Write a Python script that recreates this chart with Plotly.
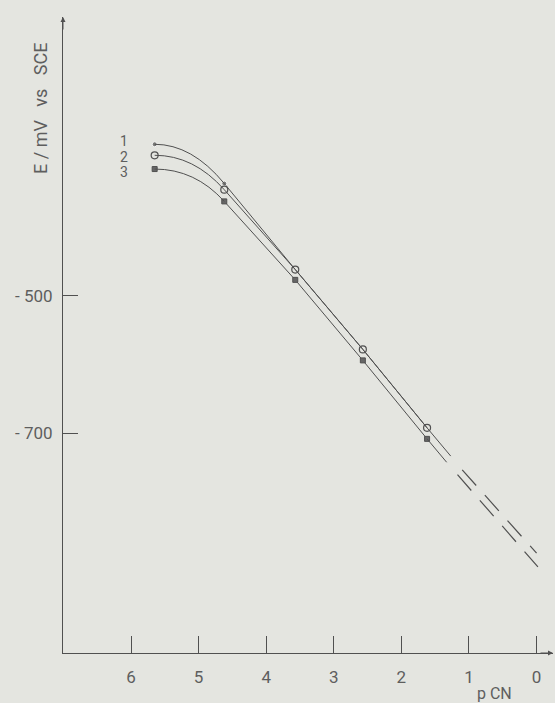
import plotly.graph_objects as go

# Electrode potential vs. pCN for three series
pcn = [5.65, 4.62, 3.57, 2.57, 1.62]
e_curve1 = [-280, -337, -462, -578, -692]
e_curve2 = [-296, -346, -462, -578, -692]
e_curve3 = [-316, -363, -477, -594, -708]
curve_names = ["1", "2", "3"]

# Straight-line continuation (solid tail, then dashed extrapolation to pCN 0)
tail_upper_pcn = [1.62, 1.27]
tail_upper_e = [-692, -733]
tail_lower_pcn = [1.62, 1.33]
tail_lower_e = [-708, -742]
dash_upper_pcn = [1.10, 0.0]
dash_upper_e = [-753, -874]
dash_lower_pcn = [1.17, -0.02]
dash_lower_e = [-760, -894]

x_ticks = [6, 5, 4, 3, 2, 1, 0]
y_ticks = [-500, -700]
y_ticktext = ["- 500", "- 700"]

PAPER = "#e4e5e0"
INK = "#505050"
TEXT = "#5e5e5e"
FONT = "Roboto"
NBSP = "\u00a0"

# where the curve numbers sit (x in pCN, y in mV)
LABEL_X = 6.11
LABEL_Y = [-275, -298, -321]

fig = go.Figure()


def head_path(xs, ys):
    """Quadratic arc from the first point into the straight part:
    flat at the start, tangent to the segment that follows at the second point."""
    slope = (ys[2] - ys[1]) / (xs[2] - xs[1])
    xc = xs[1] + (ys[0] - ys[1]) / slope
    return f"M {xs[0]},{ys[0]} Q {xc},{ys[0]} {xs[1]},{ys[1]}"


series = [
    (e_curve1, dict(symbol="circle", size=[5, 5, 0, 0, 0], color=INK)),
    (e_curve2, dict(symbol="circle-open", size=7, color=INK, line=dict(width=1.2))),
    (e_curve3, dict(symbol="square", size=5, color="#666666",
                    line=dict(color=INK, width=1))),
]

for e_vals, marker in series:
    # curved start of the curve
    fig.add_shape(type="path", xref="x", yref="y", path=head_path(pcn, e_vals),
                  line=dict(color=INK, width=1))
    # straight part
    fig.add_trace(go.Scatter(x=pcn[1:], y=e_vals[1:], mode="lines",
                             line=dict(color=INK, width=1),
                             showlegend=False, hoverinfo="skip"))
    fig.add_trace(go.Scatter(x=pcn, y=e_vals, mode="markers", marker=marker,
                             showlegend=False, hoverinfo="skip"))

for xs, ys in [(tail_upper_pcn, tail_upper_e), (tail_lower_pcn, tail_lower_e)]:
    fig.add_trace(go.Scatter(x=xs, y=ys, mode="lines",
                             line=dict(color=INK, width=1),
                             showlegend=False, hoverinfo="skip"))
for xs, ys in [(dash_upper_pcn, dash_upper_e), (dash_lower_pcn, dash_lower_e)]:
    fig.add_trace(go.Scatter(x=xs, y=ys, mode="lines",
                             line=dict(color=INK, width=1.2, dash="21px,13px"),
                             showlegend=False, hoverinfo="skip"))

# curve numbers at the start of each curve
for name, ly in zip(curve_names, LABEL_Y):
    fig.add_annotation(x=LABEL_X, y=ly, text=name, showarrow=False,
                       xanchor="center", yanchor="middle",
                       font=dict(family=FONT, size=14, color=TEXT))

# axis titles
fig.add_annotation(xref="paper", yref="paper", x=0.88, y=-0.063,
                   text="p CN", showarrow=False, xanchor="center",
                   yanchor="middle",
                   font=dict(family=FONT, size=16, color=TEXT))
y_title = f"E{NBSP}/{NBSP}mV{NBSP * 3}vs{NBSP * 3}SCE"
fig.add_annotation(xref="paper", yref="paper", x=-0.045, y=0.857,
                   text=y_title, showarrow=False,
                   textangle=-90, xanchor="center", yanchor="middle",
                   font=dict(family=FONT, size=18, color=TEXT))

# arrowheads at the ends of both axes
fig.add_annotation(xref="paper", yref="paper", x=1.0, y=0.0, ax=-14, ay=0,
                   text="", showarrow=True, arrowhead=2, arrowsize=1,
                   arrowwidth=1, arrowcolor=INK)
fig.add_annotation(xref="paper", yref="paper", x=0.0, y=1.0, ax=0, ay=14,
                   text="", showarrow=True, arrowhead=2, arrowsize=1,
                   arrowwidth=1, arrowcolor=INK)

fig.update_layout(
    width=555, height=703,
    margin=dict(l=63, r=2, t=17, b=50),
    paper_bgcolor=PAPER, plot_bgcolor=PAPER,
    showlegend=False,
    xaxis=dict(range=[7.006, -0.243], tickvals=x_ticks,
               ticks="inside", ticklen=17, tickwidth=1, tickcolor=INK,
               showline=True, linecolor=INK, linewidth=1,
               showgrid=False, zeroline=False, ticklabelstandoff=9,
               tickfont=dict(family=FONT, size=17, color=TEXT)),
    yaxis=dict(range=[-1019.1, -95.1], tickvals=y_ticks, ticktext=y_ticktext,
               ticks="inside", ticklen=15, tickwidth=1, tickcolor=INK,
               showline=True, linecolor=INK, linewidth=1,
               showgrid=False, zeroline=False, ticklabelstandoff=6,
               tickfont=dict(family=FONT, size=17, color=TEXT)),
)

fig.write_html("out.html")
